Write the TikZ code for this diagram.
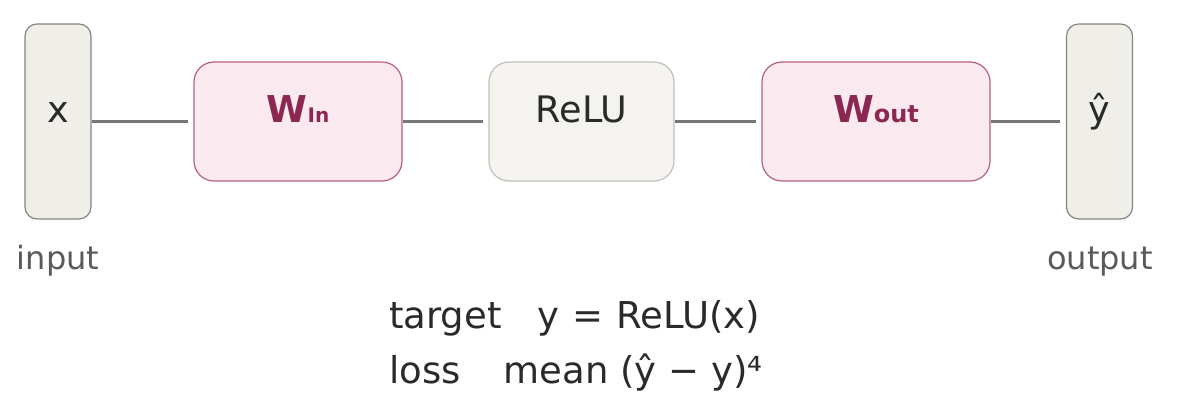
\documentclass[tikz,border=0pt]{standalone}
\usepackage{fontspec}
\setmainfont{DejaVu Sans}
\definecolor{iofill}{HTML}{F0EEE8}
\definecolor{iodraw}{HTML}{85847F}
\definecolor{wfill}{HTML}{FAE9EF}
\definecolor{wdraw}{HTML}{B8607F}
\definecolor{wtext}{HTML}{8B2852}
\definecolor{rfill}{HTML}{F4F3EF}
\definecolor{rdraw}{HTML}{C0BFB8}
\definecolor{conncol}{HTML}{777777}
\definecolor{lblcol}{HTML}{5A5A5A}
\definecolor{txtcol}{HTML}{2A2A2A}
\begin{document}
\begin{tikzpicture}[x=1pt,y=-1pt,
  iobox/.style={draw=iodraw, fill=iofill, line width=1.2pt, rounded corners=12pt,
    minimum width=66pt, minimum height=195pt, inner sep=0pt},
  wbox/.style={draw=wdraw, fill=wfill, line width=1.2pt, rounded corners=20pt,
    minimum height=119pt, inner sep=0pt},
  rbox/.style={draw=rdraw, fill=rfill, line width=1.2pt, rounded corners=20pt,
    minimum height=119pt, inner sep=0pt},
  conn/.style={draw=conncol, line width=3pt, shorten >=5.5pt},
  boxtext/.style={anchor=base, inner sep=0pt, text=txtcol, font=\fontsize{36.5}{42}\selectfont},
  wtxt/.style={anchor=base, inner sep=0pt, text=wtext, font=\bfseries\fontsize{37}{42}\selectfont},
  iolbl/.style={anchor=base, inner sep=0pt, text=lblcol, font=\fontsize{32}{38}\selectfont},
  eqtxt/.style={anchor=base west, inner sep=0pt, text=txtcol, font=\fontsize{37}{42}\selectfont}]
\useasboundingbox (0,0) rectangle (1177,402);
% boxes
\node[iobox] (in) at (58,121.5) {};
\node[wbox, minimum width=208pt] (win) at (298,121.5) {};
\node[rbox, minimum width=185pt] (relu) at (581.5,121.5) {};
\node[wbox, minimum width=228pt] (wout) at (876,121.5) {};
\node[iobox] (out) at (1099.5,121.5) {};
% connectors
\draw[conn] (in.east) -- (win.west);
\draw[conn] (win.east) -- (relu.west);
\draw[conn] (relu.east) -- (wout.west);
\draw[conn] (wout.east) -- (out.west);
% box labels
\node[boxtext] (xlbl) at (58,122) {x};
\node[wtxt] (winlbl) at (298,122) {W{\fontsize{20}{24}\selectfont In}};
\node[boxtext] (relulbl) at (581.5,122) {ReLU};
\node[wtxt] (woutlbl) at (876,122) {W{\fontsize{24}{28}\selectfont out}};
\node[boxtext] (yhlbl) at (1099.5,122) {ŷ};
% io labels
\node[iolbl] (inlbl) at (58,269) {input};
\node[iolbl] (outlbl) at (1100,269) {output};
% equations
\node[eqtxt] (target) at (389,328) {target\hspace{36pt}y\hspace{13pt}=\hspace{13pt}ReLU(x)};
\node[eqtxt] (loss) at (389,383) {loss\hspace{43pt}mean (ŷ − y)⁴};
\end{tikzpicture}
\end{document}
